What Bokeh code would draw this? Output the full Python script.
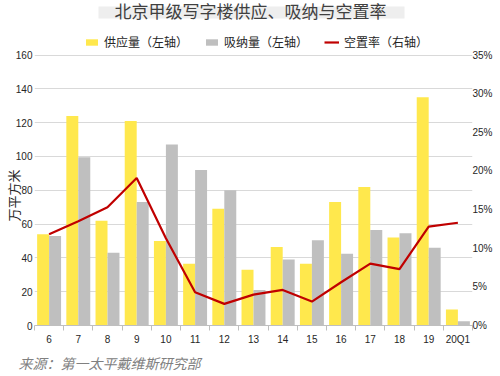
from bokeh.plotting import figure
from bokeh.models import (ColumnDataSource, Range1d, LinearAxis, FixedTicker, PrintfTickFormatter,
                          Title, Label, BoxAnnotation, Legend, LegendItem)
from bokeh.transform import dodge
from bokeh.embed import file_html
from bokeh.resources import INLINE

categories = ["6", "7", "8", "9", "10", "11", "12", "13", "14", "15", "16", "17", "18", "19", "20Q1"]
supply = [54, 124, 62, 121, 50, 36.5, 69, 33, 46.5, 36.5, 73, 82, 52, 135, 9.5]
absorption = [53, 99.5, 43, 73, 107, 92, 80, 21, 39, 50.5, 42.5, 56.5, 54.5, 46, 2.5]
vacancy = [11.8, 13.5, 15.3, 19.1, 11.3, 4.3, 2.8, 4.0, 4.6, 3.1, 5.6, 8.0, 7.3, 12.8, 13.3]
left_ticks = [0, 20, 40, 60, 80, 100, 120, 140, 160]
right_ticks = [0, 5, 10, 15, 20, 25, 30, 35]

CJK = "Noto Sans CJK SC"
NUM = "Liberation Sans"

# frame spans canvas y 0..326; value 160 / 35% sit at canvas y ~54.7
TOP_FRAC = 326.0 / (326.0 - 54.7)

xs = list(range(len(categories)))
src = ColumnDataSource(dict(x=xs, supply=supply, absorption=absorption, vacancy=vacancy))

p = figure(width=500, height=376, output_backend="svg", toolbar_location=None,
           x_range=Range1d(-0.5, len(categories) - 0.5),
           y_range=Range1d(0, left_ticks[-1] * TOP_FRAC),
           min_border_left=34, min_border_right=28, min_border_top=0, min_border_bottom=50,
           outline_line_color=None, background_fill_color="white", border_fill_color="white")
p.extra_y_ranges = {"pct": Range1d(0, right_ticks[-1] * TOP_FRAC)}

yb = p.vbar(x=dodge("x", -0.205), top="supply", width=0.41, source=src, color="#FFE84D", line_color=None)
gb = p.vbar(x=dodge("x", 0.205), top="absorption", width=0.41, source=src, color="#BFBFBF", line_color=None)
ln = p.line(x="x", y="vacancy", source=src, y_range_name="pct", line_color="#C00000", line_width=2.2)

# x axis
xa = p.xaxis[0]
xa.ticker = FixedTicker(ticks=xs, minor_ticks=[i - 0.5 for i in range(len(categories) + 1)])
xa.major_label_overrides = {i: c for i, c in enumerate(categories)}
xa.major_tick_out = 0
xa.major_tick_in = 0
xa.minor_tick_out = 5
xa.minor_tick_in = 0
xa.minor_tick_line_color = "#BFBFBF"
xa.axis_line_color = "#BFBFBF"
xa.major_label_standoff = 3
xa.major_label_text_font = NUM
xa.major_label_text_font_size = "10px"
xa.major_label_text_color = "#262626"

# left axis
ya = p.yaxis[0]
ya.ticker = FixedTicker(ticks=left_ticks)
ya.axis_line_color = None
ya.major_tick_line_color = None
ya.minor_tick_line_color = None
ya.major_tick_out = 0
ya.major_tick_in = 0
ya.minor_tick_out = 0
ya.minor_tick_in = 0
ya.major_label_standoff = 2
ya.major_label_text_font = NUM
ya.major_label_text_font_size = "10px"
ya.major_label_text_color = "#262626"
ya.axis_label = "万平方米\u3000\u3000\u3000\u3000\u3000"
ya.axis_label_text_font = CJK
ya.axis_label_text_font_size = "13px"
ya.axis_label_text_font_style = "normal"
ya.axis_label_text_color = "#262626"
ya.axis_label_standoff = -10

# right axis
ra = LinearAxis(y_range_name="pct", ticker=FixedTicker(ticks=right_ticks),
                formatter=PrintfTickFormatter(format="%d%%"))
ra.axis_line_color = None
ra.major_tick_line_color = None
ra.minor_tick_line_color = None
ra.major_tick_out = 0
ra.major_tick_in = 0
ra.minor_tick_out = 0
ra.minor_tick_in = 0
ra.major_label_standoff = 0
ra.major_label_text_font = NUM
ra.major_label_text_font_size = "10px"
ra.major_label_text_color = "#262626"
p.add_layout(ra, "right")

p.xgrid.grid_line_color = None
p.ygrid.ticker = FixedTicker(ticks=left_ticks[1:])
p.ygrid.grid_line_color = "#D9D9D9"
p.ygrid.grid_line_width = 1

# title (screen units are relative to the frame's bottom-left corner)
p.add_layout(BoxAnnotation(left=64, right=370, bottom=307, top=319,
                           left_units="screen", right_units="screen",
                           bottom_units="screen", top_units="screen",
                           fill_color="#EEEEEE", fill_alpha=1, line_color=None, level="underlay"))
p.add_layout(Label(x=216, y=315.5, x_units="screen", y_units="screen",
                   text="北京甲级写字楼供应、吸纳与空置率", text_font=CJK, text_font_size="17px",
                   text_color="#404040", text_align="center", text_baseline="middle"))

legend = Legend(items=[LegendItem(label="供应量（左轴）", renderers=[yb]),
                       LegendItem(label="吸纳量（左轴）", renderers=[gb]),
                       LegendItem(label="空置率（右轴）", renderers=[ln])],
                orientation="horizontal", location=(50, 275), padding=0, margin=0,
                spacing=16, glyph_width=15, glyph_height=8, label_height=12, label_standoff=5,
                label_text_font=CJK, label_text_font_size="12px", label_text_color="#262626",
                background_fill_alpha=0, border_line_color=None)
p.add_layout(legend, "center")

# source
p.add_layout(Title(text="来源：第一太平戴维斯研究部", align="left", offset=-16, standoff=7,
                   text_font=CJK, text_font_size="14px", text_font_style="italic",
                   text_color="#808080"), "below")

open("out.html", "w").write(file_html(p, INLINE))
